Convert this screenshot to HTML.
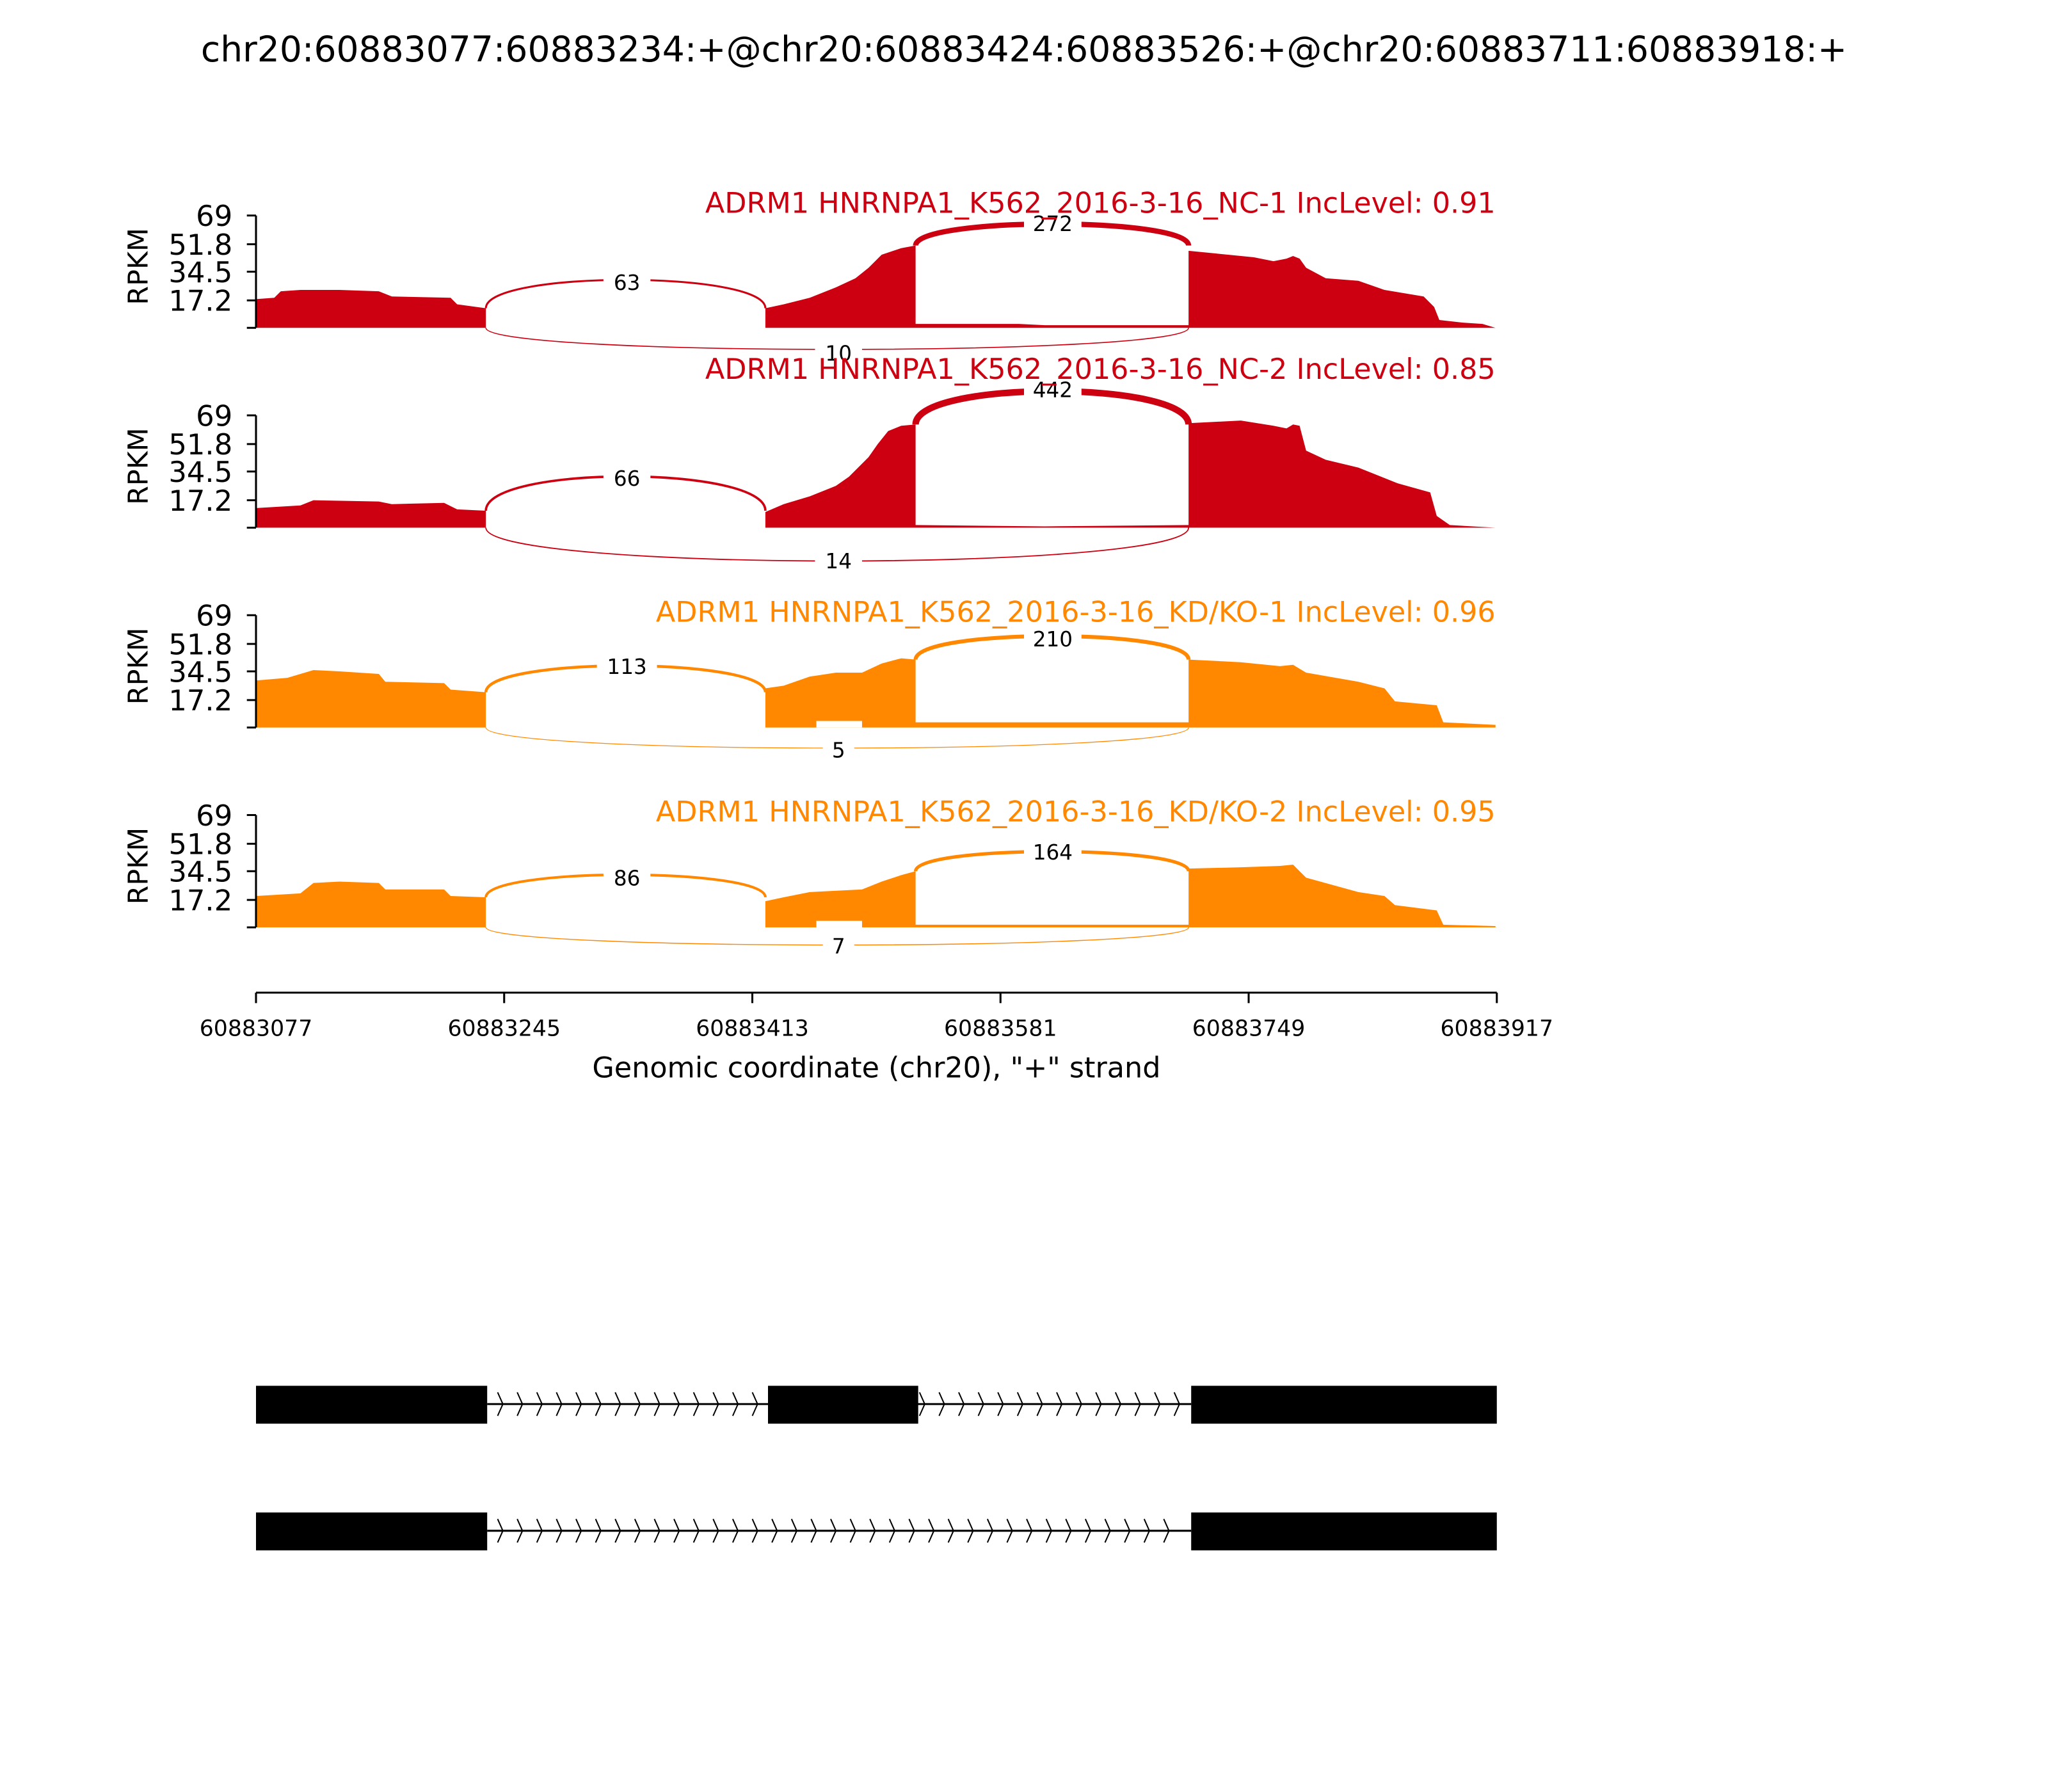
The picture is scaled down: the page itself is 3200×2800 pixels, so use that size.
<!DOCTYPE html>
<html><head><meta charset="utf-8"><style>html,body{margin:0;padding:0;background:#fff}svg{display:block}</style></head><body>
<svg xmlns="http://www.w3.org/2000/svg" width="3200" height="2800" viewBox="0 0 1568 1372" font-family="'DejaVu Sans','Liberation Sans',sans-serif">
<rect width="1568" height="1372" fill="#fff"/>
<text x="784" y="47" font-size="27" text-anchor="middle">chr20:60883077:60883234:+@chr20:60883424:60883526:+@chr20:60883711:60883918:+</text>

<!-- Panel 1 -->
<g>
<polygon fill="#cc0011" points="196,251 196,229 210,228 215,223 230,222 260,222 290,223 300,227 345,228 350,233 372,236 372,251 586,251 586,236 600,233 620,228 640,220 655,213 665,205 675,195 690,190 701,188 701,248 780,248 800,249 910,249 910,192 930,194 960,197 975,200 985,198 990,196 995,198 1000,205 1015,213 1040,215 1060,222 1090,227 1098,235 1102,245 1120,247 1135,248 1145,251"/>
<path d="M372,236 C372,207 586,207 586,236" fill="none" stroke="#cc0011" stroke-width="1.5"/>
<path d="M701,188 C701,166 910,166 910,188" fill="none" stroke="#cc0011" stroke-width="4"/>
<path d="M372,251 C372,273 910,273 910,251" fill="none" stroke="#cc0011" stroke-width="0.8"/>
<rect x="462" y="207" width="36" height="18" fill="#fff"/><text x="480" y="222" font-size="16" text-anchor="middle">63</text>
<rect x="784" y="162" width="44" height="18" fill="#fff"/><text x="806" y="177" font-size="16" text-anchor="middle">272</text>
<rect x="624" y="261" width="36" height="18" fill="#fff"/><text x="642" y="276" font-size="16" text-anchor="middle">10</text>
<text x="1145" y="163" font-size="21.8" fill="#cc0011" text-anchor="end">ADRM1 HNRNPA1_K562_2016-3-16_NC-1 IncLevel: 0.91</text>
</g>

<!-- Panel 2 -->
<g>
<polygon fill="#cc0011" points="196,404 196,389 230,387 240,383 290,384 300,386 340,385 350,390 372,391 372,404 586,404 586,392 600,386 620,380 640,372 650,365 660,355 665,350 672,340 680,330 690,326 701,325 701,402 800,403 910,402 910,324 950,322 975,326 985,328 990,325 995,326 1000,345 1015,352 1040,358 1070,370 1095,377 1100,395 1110,402 1145,404"/>
<path d="M372,391 C372,356 586,356 586,391" fill="none" stroke="#cc0011" stroke-width="1.8"/>
<path d="M701,325 C701,291 910,291 910,325" fill="none" stroke="#cc0011" stroke-width="5"/>
<path d="M372,404 C372,438 910,438 910,404" fill="none" stroke="#cc0011" stroke-width="0.9"/>
<rect x="462" y="357" width="36" height="18" fill="#fff"/><text x="480" y="372" font-size="16" text-anchor="middle">66</text>
<rect x="784" y="289" width="44" height="18" fill="#fff"/><text x="806" y="304" font-size="16" text-anchor="middle">442</text>
<rect x="624" y="420" width="36" height="18" fill="#fff"/><text x="642" y="435" font-size="16" text-anchor="middle">14</text>
<text x="1145" y="290" font-size="21.8" fill="#cc0011" text-anchor="end">ADRM1 HNRNPA1_K562_2016-3-16_NC-2 IncLevel: 0.85</text>
</g>

<!-- Panel 3 -->
<g>
<polygon fill="#ff8800" points="196,557 196,521 220,519 240,513 260,514 290,516 295,522 340,523 345,528 372,530 372,557 586,557 586,527 600,525 620,518 640,515 660,515 675,508 690,504 701,505 701,553 800,553 910,553 910,505 950,507 980,510 990,509 1000,515 1040,522 1060,527 1068,537 1100,540 1105,553 1145,555 1145,557"/>
<path d="M372,530 C372,503 586,503 586,530" fill="none" stroke="#ff8800" stroke-width="2.2"/>
<path d="M701,505 C701,481 910,481 910,505" fill="none" stroke="#ff8800" stroke-width="3"/>
<path d="M372,557 C372,578 910,578 910,557" fill="none" stroke="#ff8800" stroke-width="0.6"/>
<rect x="625" y="552" width="35" height="5" fill="#fff"/>
<rect x="457" y="501" width="46" height="18" fill="#fff"/><text x="480" y="516" font-size="16" text-anchor="middle">113</text>
<rect x="784" y="480" width="44" height="18" fill="#fff"/><text x="806" y="495" font-size="16" text-anchor="middle">210</text>
<rect x="630" y="565" width="24" height="18" fill="#fff"/><text x="642" y="580" font-size="16" text-anchor="middle">5</text>
<text x="1145" y="476" font-size="21.8" fill="#ff8800" text-anchor="end">ADRM1 HNRNPA1_K562_2016-3-16_KD/KO-1 IncLevel: 0.96</text>
</g>

<!-- Panel 4 -->
<g>
<polygon fill="#ff8800" points="196,710 196,686 230,684 240,676 260,675 290,676 295,681 340,681 345,686 372,687 372,710 586,710 586,690 600,687 620,683 660,681 675,675 690,670 701,667 701,708 800,708 910,708 910,665 950,664 980,663 990,662 1000,672 1040,683 1060,686 1068,693 1100,697 1105,708 1145,709 1145,710"/>
<path d="M372,687 C372,664 586,664 586,687" fill="none" stroke="#ff8800" stroke-width="2"/>
<path d="M701,667 C701,647 910,647 910,667" fill="none" stroke="#ff8800" stroke-width="2.6"/>
<path d="M372,710 C372,728 910,728 910,710" fill="none" stroke="#ff8800" stroke-width="0.7"/>
<rect x="625" y="705" width="35" height="5" fill="#fff"/>
<rect x="462" y="663" width="36" height="18" fill="#fff"/><text x="480" y="678" font-size="16" text-anchor="middle">86</text>
<rect x="784" y="643" width="44" height="18" fill="#fff"/><text x="806" y="658" font-size="16" text-anchor="middle">164</text>
<rect x="630" y="715" width="24" height="18" fill="#fff"/><text x="642" y="730" font-size="16" text-anchor="middle">7</text>
<text x="1145" y="629" font-size="21.8" fill="#ff8800" text-anchor="end">ADRM1 HNRNPA1_K562_2016-3-16_KD/KO-2 IncLevel: 0.95</text>
</g>

<!-- Y axes -->
<g stroke="#000" stroke-width="1.5" fill="none">
<path d="M196,165 V251 M189,165 H196 M189,187 H196 M189,208 H196 M189,230 H196 M189,251 H196"/>
<path d="M196,318 V404 M189,318 H196 M189,340 H196 M189,361 H196 M189,383 H196 M189,404 H196"/>
<path d="M196,471 V557 M189,471 H196 M189,493 H196 M189,514 H196 M189,536 H196 M189,557 H196"/>
<path d="M196,624 V710 M189,624 H196 M189,646 H196 M189,667 H196 M189,689 H196 M189,710 H196"/>
</g>
<g font-size="22" text-anchor="end">
<text x="178" y="173">69</text><text x="178" y="195">51.8</text><text x="178" y="216">34.5</text><text x="178" y="238">17.2</text>
<text x="178" y="326">69</text><text x="178" y="348">51.8</text><text x="178" y="369">34.5</text><text x="178" y="391">17.2</text>
<text x="178" y="479">69</text><text x="178" y="501">51.8</text><text x="178" y="522">34.5</text><text x="178" y="544">17.2</text>
<text x="178" y="632">69</text><text x="178" y="654">51.8</text><text x="178" y="675">34.5</text><text x="178" y="697">17.2</text>
</g>
<g font-size="21" text-anchor="middle">
<text transform="translate(113,204) rotate(-90)">RPKM</text>
<text transform="translate(113,357) rotate(-90)">RPKM</text>
<text transform="translate(113,510) rotate(-90)">RPKM</text>
<text transform="translate(113,663) rotate(-90)">RPKM</text>
</g>

<!-- X axis -->
<path d="M196,760 H1146 M196,760 V768 M386,760 V768 M576,760 V768 M766,760 V768 M956,760 V768 M1146,760 V768" stroke="#000" stroke-width="1.5" fill="none"/>
<g font-size="17" text-anchor="middle">
<text x="196" y="793">60883077</text><text x="386" y="793">60883245</text><text x="576" y="793">60883413</text><text x="766" y="793">60883581</text><text x="956" y="793">60883749</text><text x="1146" y="793">60883917</text>
</g>
<text x="671" y="825" font-size="21.8" text-anchor="middle">Genomic coordinate (chr20), "+" strand</text>

<!-- Gene models -->
<g>
<line x1="373" y1="1075" x2="912" y2="1075" stroke="#000" stroke-width="1.5"/>
<rect x="196" y="1061" width="177" height="29" fill="#000"/>
<rect x="588" y="1061" width="115" height="29" fill="#000"/>
<rect x="912" y="1061" width="234" height="29" fill="#000"/>
<path fill="none" stroke="#000" stroke-width="1" d="M381,1066 l4,9 l-4,9 M396,1066 l4,9 l-4,9 M411,1066 l4,9 l-4,9 M426,1066 l4,9 l-4,9 M441,1066 l4,9 l-4,9 M456,1066 l4,9 l-4,9 M471,1066 l4,9 l-4,9 M486,1066 l4,9 l-4,9 M501,1066 l4,9 l-4,9 M516,1066 l4,9 l-4,9 M531,1066 l4,9 l-4,9 M546,1066 l4,9 l-4,9 M561,1066 l4,9 l-4,9 M576,1066 l4,9 l-4,9 M704,1066 l4,9 l-4,9 M719,1066 l4,9 l-4,9 M734,1066 l4,9 l-4,9 M749,1066 l4,9 l-4,9 M764,1066 l4,9 l-4,9 M779,1066 l4,9 l-4,9 M794,1066 l4,9 l-4,9 M809,1066 l4,9 l-4,9 M824,1066 l4,9 l-4,9 M839,1066 l4,9 l-4,9 M854,1066 l4,9 l-4,9 M869,1066 l4,9 l-4,9 M884,1066 l4,9 l-4,9 M899,1066 l4,9 l-4,9"/>
</g>
<g>
<line x1="373" y1="1172" x2="912" y2="1172" stroke="#000" stroke-width="1.5"/>
<rect x="196" y="1158" width="177" height="29" fill="#000"/>
<rect x="912" y="1158" width="234" height="29" fill="#000"/>
<path fill="none" stroke="#000" stroke-width="1" d="M381,1163 l4,9 l-4,9 M396,1163 l4,9 l-4,9 M411,1163 l4,9 l-4,9 M426,1163 l4,9 l-4,9 M441,1163 l4,9 l-4,9 M456,1163 l4,9 l-4,9 M471,1163 l4,9 l-4,9 M486,1163 l4,9 l-4,9 M501,1163 l4,9 l-4,9 M516,1163 l4,9 l-4,9 M531,1163 l4,9 l-4,9 M546,1163 l4,9 l-4,9 M561,1163 l4,9 l-4,9 M576,1163 l4,9 l-4,9 M591,1163 l4,9 l-4,9 M606,1163 l4,9 l-4,9 M621,1163 l4,9 l-4,9 M636,1163 l4,9 l-4,9 M651,1163 l4,9 l-4,9 M666,1163 l4,9 l-4,9 M681,1163 l4,9 l-4,9 M696,1163 l4,9 l-4,9 M711,1163 l4,9 l-4,9 M726,1163 l4,9 l-4,9 M741,1163 l4,9 l-4,9 M756,1163 l4,9 l-4,9 M771,1163 l4,9 l-4,9 M786,1163 l4,9 l-4,9 M801,1163 l4,9 l-4,9 M816,1163 l4,9 l-4,9 M831,1163 l4,9 l-4,9 M846,1163 l4,9 l-4,9 M861,1163 l4,9 l-4,9 M876,1163 l4,9 l-4,9 M891,1163 l4,9 l-4,9"/>
</g>
</svg>
</body></html>
